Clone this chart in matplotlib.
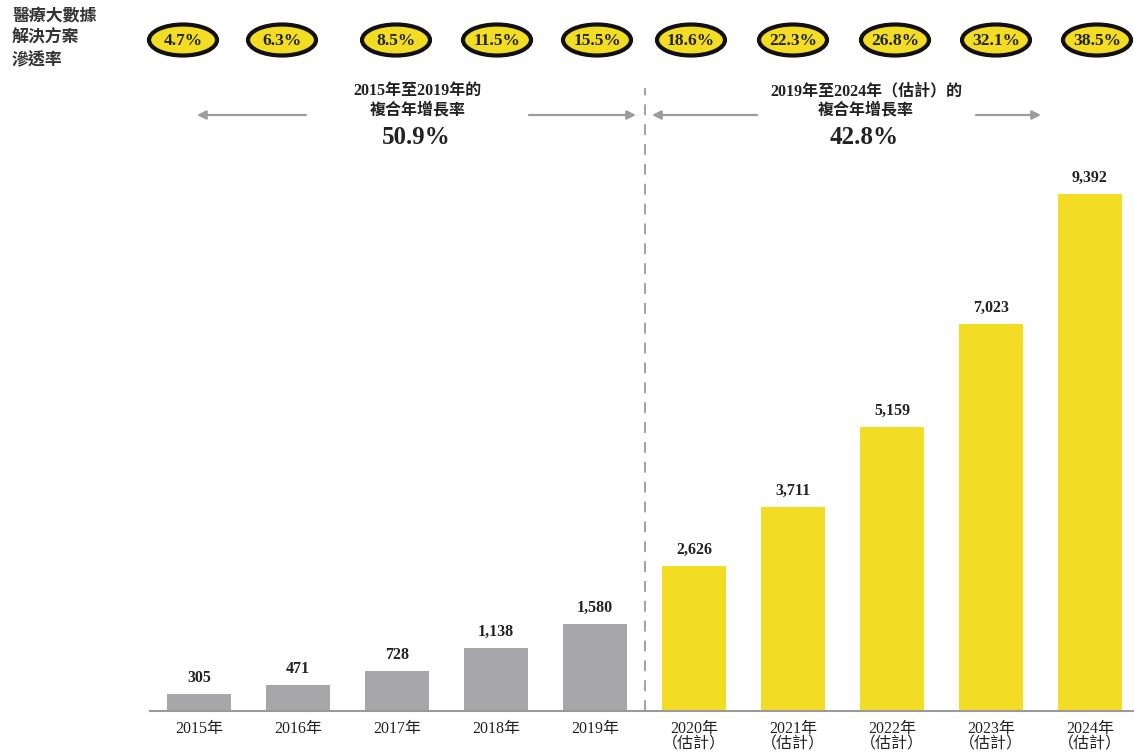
import matplotlib
matplotlib.use("Agg")
import matplotlib.pyplot as plt
from matplotlib.patches import Ellipse

# ---- data ----
years = ["2015年", "2016年", "2017年", "2018年", "2019年",
         "2020年\n（估計）", "2021年\n（估計）", "2022年\n（估計）", "2023年\n（估計）", "2024年\n（估計）"]
values = [305, 471, 728, 1138, 1580, 2626, 3711, 5159, 7023, 9392]
penetration = ["4.7%", "6.3%", "8.5%", "11.5%", "15.5%", "18.6%", "22.3%", "26.8%", "32.1%", "38.5%"]
cagr_left_title = "2015年至2019年的\n複合年增長率"
cagr_left = "50.9%"
cagr_right_title = "2019年至2024年（估計）的\n複合年增長率"
cagr_right = "42.8%"
row_label = "醫療大數據\n解決方案\n滲透率"

# ---- style ----
GRAY = "#A7A7A9"
YELLOW = "#F2DD24"
ARROW = "#9C9C9E"
FONT = ["Liberation Serif", "Noto Sans CJK TC"]
plt.rcParams["font.family"] = FONT

W, H = 1134, 754
fig = plt.figure(figsize=(W / 100, H / 100), dpi=100)

ax = fig.add_axes([150 / W, (H - 711) / H, (W - 150) / W, 711 / H])
x = list(range(len(values)))
colors = [GRAY] * 5 + [YELLOW] * 5
ax.bar(x, values, width=0.645, color=colors, zorder=2)
ax.set_xlim(-0.495, 9.444)
ax.set_ylim(0, 12916)
for s in ["top", "right", "left"]:
    ax.spines[s].set_visible(False)
ax.spines["bottom"].set_color("#9A9A9A")
ax.spines["bottom"].set_linewidth(1.5)
ax.set_yticks([])
ax.set_xticks(x)
ax.set_xticklabels(years, fontsize=11.5, color="#222222", linespacing=1.0)
ax.tick_params(axis="x", length=0, pad=7)

for xi, v in zip(x, values):
    ax.annotate(f"{v:,}", (xi, v), xytext=(0, 6), textcoords="offset points",
                ha="center", va="bottom", fontsize=11.5, fontweight="bold", color="#222222")

# dashed divider
ax.axvline(4.5, ymin=0, ymax=(711 - 88) / 711, color="#9A9A9A", lw=1.3,
           ls=(0, (6, 5)), zorder=1)

# ---- overlay in pixel coordinates ----
ov = fig.add_axes([0, 0, 1, 1])
ov.set_xlim(0, W)
ov.set_ylim(H, 0)
ov.axis("off")

ov.text(12, 9, row_label, ha="left", va="top", fontsize=12.2, fontweight="bold",
        color="#333333", linespacing=1.45)

ell_x = [183, 282, 396, 497, 597, 691, 793, 895, 996, 1097]
for ex, p in zip(ell_x, penetration):
    ov.add_patch(Ellipse((ex, 40), 68, 31, facecolor=YELLOW, edgecolor="#111111",
                         lw=3.0, zorder=3))
    ov.text(ex, 41, p, ha="center", va="center", fontsize=12.5, fontweight="bold",
            color="#222222", zorder=4)

# CAGR texts
ov.text(418, 101, cagr_left_title, ha="center", va="center", fontsize=11.5,
        fontweight="bold", color="#222222", linespacing=1.3)
ov.text(416, 138, cagr_left, ha="center", va="center", fontsize=18,
        fontweight="bold", color="#222222")
ov.text(866, 101, cagr_right_title, ha="center", va="center", fontsize=11.5,
        fontweight="bold", color="#222222", linespacing=1.3)
ov.text(864, 138, cagr_right, ha="center", va="center", fontsize=18,
        fontweight="bold", color="#222222")

def arrow(x0, x1, y=115):
    ov.annotate("", xy=(x1, y), xytext=(x0, y),
                arrowprops=dict(arrowstyle="-|>", color=ARROW, lw=1.6,
                                mutation_scale=13, shrinkA=0, shrinkB=0))

arrow(306, 197)
arrow(529, 636)
arrow(757, 652)
arrow(976, 1041)

fig.savefig("out.png", dpi=100)
